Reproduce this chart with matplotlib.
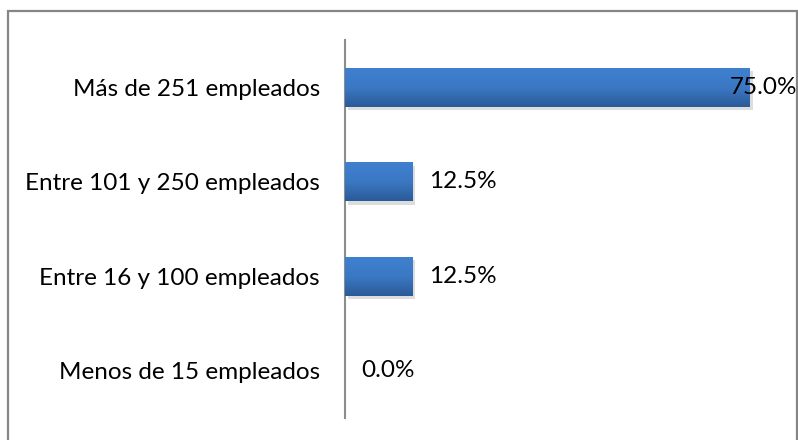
import matplotlib.pyplot as plt
import matplotlib.patheffects as pe
from matplotlib.colors import LinearSegmentedColormap
from matplotlib.patches import Rectangle
import numpy as np

# data (top to bottom as shown)
categories = ["Más de 251 empleados", "Entre 101 y 250 empleados",
              "Entre 16 y 100 empleados", "Menos de 15 empleados"]
values = [75.0, 12.5, 12.5, 0.0]

plt.rcParams['font.family'] = ['Lato', 'DejaVu Sans']
FS = 17.5

fig = plt.figure(figsize=(7.98, 4.40), dpi=100)
ax = fig.add_axes([345 / 798, 22 / 440, 452 / 798, 378 / 440])

ypos = np.arange(len(categories))[::-1]
bar_h = 0.41
grad_cmap = LinearSegmentedColormap.from_list("blu", ["#2b5a98", "#3b78c4", "#3f80cf"])
grad = np.linspace(0, 1, 64).reshape(-1, 1)

bars = ax.barh(ypos, values, height=bar_h, color="#3a74be", linewidth=0,
               path_effects=[pe.SimplePatchShadow(offset=(2, -2.5), alpha=0.18, shadow_rgbFace="#444444"),
                             pe.Normal()])
for b, v, y in zip(bars, values, ypos):
    if v <= 0:
        continue
    im = ax.imshow(grad, cmap=grad_cmap, aspect='auto', origin='lower',
                   extent=(0, v, y - bar_h / 2, y + bar_h / 2), zorder=3)
    im.set_clip_path(b)

ax.set_xlim(0, 452 / 5.4)
ax.set_ylim(-0.5, len(categories) - 0.5)

# value labels
for v, y in zip(values, ypos):
    txt = f"{v:.1f}%"
    if v > 70:
        ax.text(1.0, y, txt, transform=ax.get_yaxis_transform(), ha='right', va='center',
                fontsize=FS, color="#000000", zorder=5)
    else:
        ax.annotate(txt, (v, y), xytext=(12, 0), textcoords='offset points',
                    ha='left', va='center', fontsize=FS, color="#000000")

ax.set_yticks(ypos)
ax.set_yticklabels(categories, fontsize=FS)
ax.tick_params(axis='y', length=0, pad=18)
ax.set_xticks([])
for s in ['top', 'right', 'bottom']:
    ax.spines[s].set_visible(False)
ax.spines['left'].set_color("#8c8c8c")
ax.spines['left'].set_linewidth(1.5)

# outer chart border
fig.patches.append(Rectangle((7.5 / 798, -0.1), (797 - 7.5) / 798, (440 - 11.5) / 440 + 0.1,
                             transform=fig.transFigure, fill=False,
                             edgecolor="#868686", linewidth=1.6))

fig.savefig("out.png", dpi=100)
